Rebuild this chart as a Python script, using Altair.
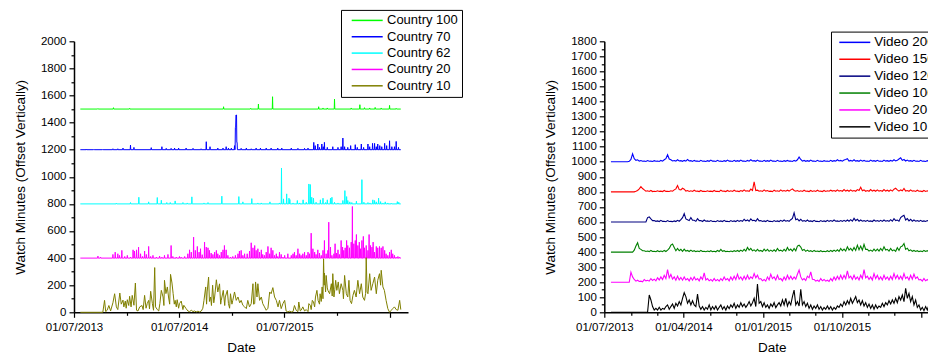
import altair as alt
import pandas as pd

FONT = "Liberation Sans"
DAY0 = pd.Timestamp("2013-07-01")

# ---------------- left panel: watch minutes per country ----------------
country_names = ["Country 100", "Country 70", "Country 62", "Country 20", "Country 10"]
country_colors = ["#00FF00", "#0000FF", "#00FFFF", "#FF00FF", "#808000"]
country_offsets = [1500, 1200, 800, 400, 0]
country_first_day, country_last_day = 22, 1134

# (day since 01/07/2013, minutes) for the days with any viewing
country_100 = [(83, 3), (137, 10), (193, 5), (519, 17), (613, 5), (640, 37), (689, 91),
               (849, 17), (864, 8), (879, 8), (904, 74), (962, 8), (992, 32), (1008, 10),
               (1026, 8), (1045, 12), (1066, 8), (1095, 27), (1118, 5)]

country_70 = [(43, 5), (69, 3), (100, 3), (135, 7), (152, 7), (170, 12), (196, 34), (208, 17),
              (268, 15), (305, 22), (320, 10), (337, 10), (349, 12), (363, 12), (389, 12),
              (413, 10), (441, 7), (459, 59), (472, 22), (499, 12), (517, 12), (528, 22),
              (536, 12), (546, 12), (557, 30), (560, 165), (561, 165), (562, 256), (563, 256),
              (564, 256), (565, 54), (566, 54), (580, 10), (598, 12), (615, 7), (632, 12),
              (647, 12), (667, 12), (684, 12), (707, 12), (721, 12), (754, 12), (777, 10),
              (800, 10), (812, 12), (832, 54), (837, 30), (846, 42), (852, 17), (860, 42),
              (865, 22), (869, 54), (879, 17), (898, 22), (916, 17), (927, 22), (933, 86),
              (939, 22), (950, 17), (960, 30), (976, 37), (983, 17), (997, 42), (1005, 17),
              (1020, 42), (1026, 22), (1036, 47), (1043, 47), (1049, 22), (1054, 42),
              (1061, 30), (1068, 22), (1078, 47), (1085, 30), (1095, 66), (1103, 22),
              (1112, 22), (1118, 61), (1126, 17)]

country_62 = [(147, 5), (196, 10), (225, 49), (259, 15), (289, 47), (303, 27), (322, 10),
              (334, 10), (351, 22), (378, 10), (393, 7), (409, 52), (451, 7), (465, 10),
              (513, 57), (572, 54), (586, 15), (617, 39), (638, 7), (650, 7), (680, 15),
              (713, 7), (720, 265), (727, 37), (738, 74), (746, 42), (749, 32), (760, 7),
              (775, 25), (783, 7), (795, 30), (806, 12), (815, 147), (820, 143), (825, 49),
              (831, 42), (840, 12), (855, 30), (864, 42), (873, 10), (879, 30), (890, 42),
              (895, 49), (904, 12), (916, 7), (933, 25), (940, 98), (946, 54), (950, 25),
              (957, 15), (964, 10), (980, 20), (999, 179), (1006, 12), (1020, 10), (1027, 7),
              (1037, 30), (1043, 25), (1049, 15), (1057, 42), (1064, 17), (1072, 7),
              (1080, 15), (1089, 7), (1101, 5), (1122, 17), (1127, 12)]

country_20 = [(83, 15), (92, 7), (135, 27), (143, 44), (152, 32), (158, 20), (166, 57),
              (176, 12), (185, 20), (196, 7), (205, 61), (210, 52), (217, 61), (224, 81),
              (231, 32), (238, 12), (245, 52), (251, 27), (259, 86), (266, 12), (274, 20),
              (286, 7), (297, 15), (305, 7), (314, 20), (326, 27), (337, 93), (343, 12),
              (355, 7), (366, 12), (372, 7), (384, 12), (395, 32), (401, 61), (407, 44),
              (415, 155), (421, 57), (428, 86), (434, 44), (439, 69), (445, 25), (453, 118),
              (459, 81), (465, 76), (470, 57), (476, 37), (482, 27), (488, 44), (494, 57),
              (499, 32), (505, 20), (511, 44), (517, 61), (522, 93), (528, 61), (534, 20),
              (543, 7), (551, 12), (560, 20), (569, 32), (574, 52), (580, 57), (586, 20),
              (592, 32), (601, 32), (609, 52), (615, 113), (621, 76), (627, 93), (632, 57),
              (638, 69), (644, 44), (650, 61), (655, 27), (661, 20), (667, 44), (673, 86),
              (679, 32), (684, 76), (690, 57), (696, 20), (702, 32), (707, 12), (713, 44),
              (719, 27), (725, 7), (731, 20), (742, 32), (754, 20), (760, 32), (765, 44),
              (771, 20), (777, 69), (783, 32), (788, 20), (794, 32), (800, 44), (806, 20),
              (812, 44), (817, 32), (823, 184), (829, 69), (835, 44), (840, 27), (846, 61),
              (852, 37), (858, 20), (864, 57), (869, 130), (875, 32), (881, 57), (884, 265),
              (890, 81), (895, 20), (902, 32), (906, 106), (911, 37), (916, 61), (921, 27),
              (927, 130), (932, 81), (936, 57), (941, 76), (946, 130), (950, 93), (956, 76),
              (962, 118), (966, 381), (971, 106), (976, 130), (980, 174), (985, 93),
              (990, 118), (994, 69), (999, 130), (1004, 160), (1008, 76), (1014, 93),
              (1020, 57), (1024, 174), (1029, 93), (1034, 81), (1038, 118), (1043, 44),
              (1049, 86), (1054, 76), (1060, 86), (1066, 76), (1072, 86), (1078, 57),
              (1083, 32), (1089, 20), (1095, 44), (1101, 61), (1106, 32), (1112, 20),
              (1118, 7), (1124, 12), (1130, 7)]

# continuous record: (day since 01/07/2013, minutes)
country_10 = [(22, 0), (100, 0), (106, 88), (110, 5), (115, 15), (121, 50), (127, 10),
              (135, 70), (141, 137), (147, 40), (152, 20), (159, 142), (164, 60), (170, 90),
              (173, 40), (178, 83), (181, 30), (185, 93), (190, 50), (193, 118), (198, 40),
              (202, 125), (208, 52), (213, 216), (217, 15), (222, 10), (228, 40), (236, 50),
              (240, 20), (245, 125), (250, 30), (254, 64), (259, 88), (262, 25), (266, 155),
              (272, 64), (276, 15), (280, 330), (283, 40), (289, 20), (294, 10), (298, 64),
              (303, 162), (309, 113), (312, 50), (314, 236), (319, 138), (324, 187),
              (328, 113), (332, 60), (335, 280), (340, 216), (344, 138), (348, 60), (351, 88),
              (355, 40), (358, 93), (363, 30), (366, 64), (372, 83), (378, 20), (381, 52),
              (389, 27), (395, 10), (401, 5), (407, 15), (413, 5), (418, 10), (424, 3),
              (430, 8), (436, 3), (442, 10), (447, 30), (451, 88), (457, 187), (460, 60),
              (462, 150), (467, 260), (470, 80), (474, 113), (477, 50), (481, 200), (485, 70),
              (488, 113), (494, 240), (499, 150), (505, 210), (509, 60), (511, 88), (518, 162),
              (523, 50), (525, 113), (532, 162), (536, 64), (540, 30), (543, 137), (548, 60),
              (551, 88), (557, 150), (563, 88), (569, 113), (575, 70), (580, 88), (586, 52),
              (592, 40), (598, 27), (603, 88), (609, 40), (615, 64), (621, 211), (623, 60),
              (627, 64), (630, 224), (635, 113), (638, 211), (644, 88), (650, 113), (655, 64),
              (661, 40), (667, 15), (673, 30), (679, 150), (684, 137), (690, 182), (696, 113),
              (702, 88), (708, 40), (713, 88), (719, 27), (725, 64), (731, 88), (736, 10),
              (742, 3), (748, 8), (754, 3), (760, 5), (765, 50), (771, 15), (777, 5), (780, 76),
              (785, 10), (788, 15), (794, 40), (800, 10), (806, 20), (812, 5), (815, 64),
              (820, 52), (823, 20), (827, 88), (831, 76), (835, 40), (838, 113), (843, 162),
              (847, 88), (852, 60), (854, 137), (858, 80), (861, 187), (864, 100), (866, 395),
              (868, 200), (869, 290), (873, 150), (875, 272), (879, 180), (881, 162),
              (887, 137), (893, 211), (896, 120), (898, 285), (902, 113), (905, 170),
              (908, 236), (912, 162), (917, 224), (921, 137), (927, 211), (933, 162),
              (935, 100), (939, 272), (945, 137), (950, 113), (954, 236), (958, 88), (963, 64),
              (968, 125), (973, 162), (979, 113), (985, 236), (991, 137), (997, 211),
              (1002, 113), (1008, 88), (1012, 140), (1014, 403), (1017, 150), (1020, 137),
              (1026, 285), (1031, 162), (1037, 211), (1043, 260), (1049, 137), (1054, 236),
              (1060, 285), (1064, 200), (1066, 310), (1072, 187), (1077, 162), (1083, 88),
              (1089, 27), (1095, 0), (1101, 15), (1106, 27), (1112, 40), (1118, 20),
              (1124, 15), (1130, 88), (1134, 20)]

country_series = [country_100, country_70, country_62, country_20, country_10]

# ---------------- right panel: watch minutes per video ----------------
video_names = ["Video 200", "Video 150", "Video 120", "Video 100", "Video 20", "Video 10"]
video_colors = ["#0000FF", "#FF0000", "#000080", "#008000", "#FF00FF", "#000000"]
video_offsets = [1000, 800, 600, 400, 200, 0]
video_first, video_last = "2013-07-24", "2016-08-03"

# evenly spaced samples (about every 6 days) from the first to the last day
video_200 = [0, 0, 0, 0, 0, 0, 0, 0, 0, 0,
             0, 3, 15, 53, 20, 9, 13, 4, 8, 3,
             5, 2, 8, 3, 4, 2, 7, 3, 5, 2,
             9, 4, 13, 20, 46, 18, 13, 5, 8, 4,
             13, 5, 7, 3, 9, 4, 15, 5, 7, 2,
             9, 4, 5, 2, 9, 3, 4, 2, 7, 3,
             11, 4, 5, 2, 9, 3, 4, 2, 7, 3,
             11, 4, 5, 2, 9, 3, 7, 3, 11, 4,
             5, 2, 9, 4, 13, 5, 7, 3, 11, 4,
             5, 2, 9, 3, 7, 3, 11, 4, 5, 2,
             9, 3, 4, 2, 7, 3, 9, 4, 5, 2,
             9, 4, 13, 31, 15, 4, 9, 3, 7, 3,
             11, 4, 5, 2, 9, 3, 4, 2, 7, 3,
             5, 2, 9, 3, 7, 4, 13, 5, 9, 4,
             11, 15, 20, 5, 9, 4, 13, 4, 7, 3,
             11, 4, 9, 3, 5, 2, 11, 4, 7, 3,
             9, 3, 5, 2, 11, 4, 7, 3, 9, 4,
             13, 5, 9, 18, 26, 9, 15, 5, 11, 4,
             7, 3, 9, 3, 5, 2, 9, 3, 4, 2,
             7, 3, 5]
video_150 = [0, 0, 0, 0, 0, 0, 0, 0, 0, 0,
             0, 0, 0, 0, 0, 4, 9, 20, 35, 22,
             13, 4, 7, 3, 9, 2, 4, 2, 7, 3,
             5, 2, 9, 3, 4, 2, 7, 4, 13, 20,
             42, 15, 13, 24, 18, 5, 9, 3, 7, 3,
             11, 4, 5, 2, 9, 3, 4, 2, 7, 3,
             5, 2, 9, 3, 4, 2, 11, 4, 5, 2,
             9, 3, 7, 3, 11, 4, 5, 2, 9, 4,
             13, 5, 7, 4, 18, 9, 66, 9, 11, 4,
             7, 3, 13, 5, 9, 3, 5, 2, 11, 4,
             7, 3, 13, 5, 9, 4, 11, 5, 13, 20,
             9, 4, 9, 3, 7, 3, 11, 4, 5, 2,
             9, 3, 7, 3, 11, 4, 5, 2, 9, 3,
             7, 4, 11, 5, 9, 4, 13, 5, 9, 4,
             15, 5, 11, 4, 13, 5, 9, 4, 15, 9,
             31, 7, 13, 4, 9, 4, 15, 5, 11, 4,
             13, 5, 9, 4, 15, 5, 11, 4, 13, 5,
             18, 24, 13, 5, 13, 7, 22, 5, 9, 4,
             13, 5, 7, 3, 11, 4, 5, 2, 9, 3,
             7, 3, 9]
video_120 = [0, 0, 0, 0, 0, 0, 0, 0, 0, 0,
             0, 0, 0, 0, 0, 0, 0, 0, 0, 0,
             0, 0, 29, 33, 20, 9, 9, 4, 7, 3,
             11, 4, 5, 2, 9, 3, 4, 2, 7, 3,
             11, 5, 15, 29, 55, 20, 15, 9, 29, 11,
             11, 4, 22, 9, 9, 3, 13, 5, 7, 3,
             9, 3, 5, 2, 9, 3, 7, 3, 11, 4,
             5, 2, 9, 3, 7, 3, 11, 4, 9, 4,
             18, 7, 13, 5, 20, 9, 11, 5, 22, 7,
             9, 3, 7, 3, 11, 4, 5, 2, 9, 3,
             7, 3, 11, 4, 13, 5, 9, 4, 15, 24,
             60, 15, 20, 7, 18, 5, 9, 4, 13, 4,
             7, 3, 11, 4, 5, 2, 9, 3, 7, 3,
             11, 4, 9, 4, 13, 5, 7, 3, 9, 4,
             11, 4, 13, 5, 15, 5, 24, 9, 18, 5,
             13, 5, 9, 4, 11, 4, 7, 3, 13, 5,
             9, 4, 11, 4, 13, 5, 9, 4, 15, 5,
             22, 9, 13, 5, 29, 38, 44, 13, 22, 7,
             18, 5, 13, 5, 9, 4, 11, 4, 7, 3,
             9, 4, 11]
video_100 = [0, 0, 0, 0, 0, 0, 0, 0, 0, 0,
             0, 0, 0, 0, 13, 40, 62, 24, 18, 9,
             9, 4, 7, 3, 11, 4, 5, 2, 9, 3,
             7, 3, 11, 4, 13, 24, 46, 53, 31, 9,
             24, 9, 18, 5, 20, 7, 11, 4, 13, 4,
             9, 3, 7, 3, 11, 4, 5, 2, 7, 3,
             9, 3, 5, 2, 11, 4, 18, 5, 9, 3,
             5, 2, 7, 3, 9, 4, 11, 4, 13, 5,
             18, 7, 31, 13, 24, 9, 15, 5, 18, 7,
             11, 4, 20, 7, 18, 5, 13, 5, 15, 5,
             24, 9, 13, 5, 18, 7, 31, 11, 20, 7,
             24, 9, 40, 46, 33, 11, 18, 5, 13, 4,
             9, 3, 11, 4, 7, 3, 9, 3, 5, 2,
             9, 3, 11, 4, 13, 5, 15, 5, 24, 9,
             20, 7, 35, 13, 24, 9, 31, 11, 46, 15,
             40, 13, 51, 18, 18, 7, 13, 5, 20, 7,
             20, 7, 24, 9, 35, 13, 18, 7, 24, 9,
             15, 5, 29, 11, 35, 40, 57, 18, 26, 9,
             15, 5, 11, 4, 9, 3, 7, 3, 11, 4,
             9, 3, 7]
video_20 = [0, 0, 0, 0, 0, 0, 0, 0, 0, 0,
            0, 0, 66, 35, 18, 7, 13, 5, 7, 3,
            18, 9, 13, 7, 24, 11, 20, 9, 29, 15,
            35, 18, 46, 24, 84, 29, 51, 20, 35, 13,
            40, 15, 31, 13, 35, 15, 24, 9, 31, 13,
            35, 15, 24, 9, 35, 18, 62, 15, 24, 9,
            18, 7, 24, 9, 18, 7, 24, 11, 35, 15,
            24, 9, 35, 15, 40, 18, 53, 20, 35, 15,
            40, 18, 46, 20, 35, 24, 57, 29, 46, 20,
            24, 9, 18, 7, 35, 15, 53, 24, 35, 15,
            46, 18, 24, 9, 35, 15, 46, 20, 40, 18,
            35, 20, 53, 80, 35, 15, 24, 11, 40, 29,
            68, 20, 18, 7, 13, 5, 24, 9, 18, 7,
            13, 5, 24, 9, 35, 15, 40, 18, 46, 20,
            46, 24, 75, 29, 40, 18, 46, 20, 35, 15,
            46, 24, 84, 29, 40, 18, 35, 15, 57, 24,
            46, 18, 35, 15, 46, 20, 35, 15, 40, 18,
            57, 24, 46, 20, 40, 18, 57, 24, 35, 15,
            46, 20, 53, 24, 35, 15, 18, 7, 24, 9,
            18, 7, 13]
video_10 = [0, 0, 0, 0, 0, 0, 0, 0, 0, 0,
            0, 0, 0, 0, 0, 0, 0, 0, 0, 0,
            0, 0, 0,
            115, 82, 38, 15, 26, 15, 33, 15, 26, 20,
            38, 49, 20, 38, 55, 26, 60, 42, 71, 49,
            93, 130, 104, 60, 82, 49, 77, 49, 38, 121,
            42, 20, 38, 15, 33, 20, 49, 15, 38, 20,
            42, 15, 33, 49, 20, 38, 15, 42, 24, 49,
            33, 60, 26, 49, 33, 64, 38, 55, 33, 49,
            71, 42, 64, 93, 38, 188, 60, 71, 38, 64,
            33, 49, 26, 55, 38, 64, 31, 49, 64, 42,
            82, 49, 93, 42, 71, 49, 104, 148, 49, 71,
            42, 152, 49, 71, 38, 60, 26, 49, 20, 42,
            26, 49, 20, 38, 15, 33, 20, 42, 20, 38,
            15, 33, 20, 42, 33, 55, 38, 71, 49, 77,
            55, 93, 60, 82, 104, 64, 82, 49, 77, 42,
            64, 33, 55, 26, 49, 20, 49, 26, 42, 33,
            60, 38, 64, 49, 77, 55, 82, 60, 93, 64,
            104, 82, 115, 71, 159, 93, 126, 71, 104, 49,
            82, 33, 49, 15, 33, 11, 38, 15, 49, 26]

video_series = [video_200, video_150, video_120, video_100, video_20, video_10]

# axis ticks (year, month)
left_ticks = [(2013, 7), (2014, 1), (2014, 7), (2015, 1), (2015, 7), (2016, 1), (2016, 7)]
right_ticks = [(2013, 7), (2013, 10), (2014, 1), (2014, 4), (2014, 7), (2014, 10),
               (2015, 1), (2015, 4), (2015, 7), (2015, 10), (2016, 1), (2016, 4), (2016, 7)]
x_start = (2013, 7, 1)
x_end = (2016, 9, 2)


def daily_spikes(pairs, first, last):
    """Daily record that is zero except on the listed days."""
    vals = dict(pairs)
    days = {first, last}
    for d in vals:
        days.update({d - 1, d, d + 1})
    return [(d, vals.get(d, 0)) for d in sorted(days) if first <= d <= last]


rows = []
for name, off, pairs in zip(country_names, country_offsets, country_series):
    pts = pairs if name == "Country 10" else daily_spikes(pairs, country_first_day, country_last_day)
    for d, v in pts:
        rows.append({"date": DAY0 + pd.Timedelta(days=d), "minutes": off + v, "series": name})
country_df = pd.DataFrame(rows)

rows = []
for name, off, vals in zip(video_names, video_offsets, video_series):
    dates = pd.date_range(video_first, video_last, periods=len(vals))
    for t, v in zip(dates, vals):
        rows.append({"date": t, "minutes": off + v, "series": name})
video_df = pd.DataFrame(rows)


def dt(y, m, d=1):
    return alt.DateTime(year=y, month=m, date=d)


x_scale = alt.Scale(domain=[dt(*x_start), dt(*x_end)], nice=False)
Y_TITLE = "Watch Minutes (Offset Vertically)"


def x_axis(ticks, major_test):
    return alt.Axis(
        values=[dt(y, m) for y, m in ticks],
        title="Date",
        labelExpr="(" + major_test + ") && year(datum.value) < 2016 ? timeFormat(datum.value, '%d/%m/%Y') : ''",
        tickSize={"condition": {"test": major_test, "value": 5}, "value": 3},
        labelOverlap=False,
        labelFlush=False,
        labelPadding=4,
        titlePadding=8,
    )


def y_axis(top, minor, major):
    return alt.Axis(
        values=list(range(0, top + 1, minor)),
        format="d",
        title=Y_TITLE,
        labelExpr="datum.value % " + str(major) + " == 0 ? datum.label : ''",
        tickSize={"condition": {"test": "datum.value % " + str(major) + " == 0", "value": 5}, "value": 3},
        labelOverlap=False,
        labelPadding=3,
        titlePadding=13,
    )


def legend(x, y, font_size, row_pad, sym_offset, lab_offset, tail):
    return alt.Legend(
        orient="none", legendX=x, legendY=y, title=None,
        padding=4, strokeColor="black", fillColor="white",
        symbolType="M-3.1,0H3.1", symbolSize=100, symbolStrokeWidth=1.5,
        symbolOffset=sym_offset, labelOffset=lab_offset,
        labelFont=FONT, labelFontSize=font_size, labelColor="black",
        rowPadding=row_pad, labelExpr="datum.label + '" + tail + "'",
    )


left = alt.Chart(country_df).mark_line(strokeWidth=1).encode(
    x=alt.X("date:T", scale=x_scale, axis=x_axis(left_ticks, "month(datum.value) == 6")),
    y=alt.Y("minutes:Q", scale=alt.Scale(domain=[0, 2000], nice=False), axis=y_axis(2000, 100, 200)),
    color=alt.Color("series:N", sort=country_names,
                    scale=alt.Scale(domain=country_names, range=country_colors),
                    legend=legend(267, -31.4, 13, 2.35, 15.7, 13.3, "\u00a0\u00a0\u00a0")),
).properties(width=334, height=271)

right_major = "(year(datum.value) * 12 + month(datum.value) - 24162) % 9 == 0"
right = alt.Chart(video_df).mark_line(strokeWidth=1.1).encode(
    x=alt.X("date:T", scale=x_scale, axis=x_axis(right_ticks, right_major)),
    y=alt.Y("minutes:Q", scale=alt.Scale(domain=[0, 1800], nice=False), axis=y_axis(1800, 50, 100)),
    color=alt.Color("series:N", sort=video_names,
                    scale=alt.Scale(domain=video_names, range=video_colors),
                    legend=legend(226.7, -9.7, 13.5, 1.9, 13.05, 12.75, "\u00a0")),
).properties(width=335, height=271)

# the right-hand legend runs off the page edge
chart = alt.hconcat(left, right, spacing=196.3, bounds="flush").resolve_scale(
    color="independent"
).properties(
    padding={"left": 13, "top": 9.3, "right": -12, "bottom": 0}
).configure(font=FONT).configure_axis(
    domainColor="black", domainWidth=1.5, tickColor="black", tickWidth=1.2,
    labelColor="black", labelFont=FONT, labelFontSize=11.5,
    titleFont=FONT, titleFontSize=13.5, titleFontWeight="normal", titleColor="black",
    grid=False,
).configure_view(strokeWidth=0)

chart.save("out.html", embed_options={"renderer": "svg", "actions": False})
